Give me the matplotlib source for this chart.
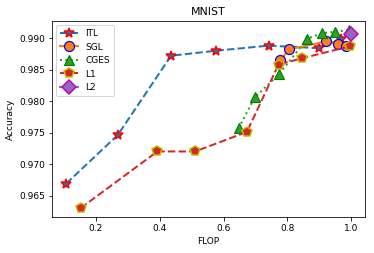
"""
MNIST accuracy vs FLOP for the pruning methods
"""

import matplotlib
matplotlib.use("Agg")
import matplotlib.pyplot as plt

# data
itl_flop = [0.108, 0.269, 0.436, 0.577, 0.741, 0.898, 0.967]
itl_acc = [0.9669, 0.9746, 0.9872, 0.9880, 0.9888, 0.9884, 0.9898]

sgl_flop = [0.778, 0.805, 0.922, 0.958, 0.982]
sgl_acc = [0.9865, 0.9882, 0.9895, 0.9890, 0.9888]

cges_flop = [0.647, 0.698, 0.774, 0.862, 0.909, 0.950, 0.992]
cges_acc = [0.9757, 0.9806, 0.9843, 0.9899, 0.9908, 0.9910, 0.9913]

l1_flop = [0.153, 0.393, 0.511, 0.673, 0.772, 0.846, 0.995]
l1_acc = [0.9630, 0.9720, 0.9720, 0.9751, 0.9858, 0.9868, 0.9887]

l2_flop = [0.998]
l2_acc = [0.9906]

plt.rcParams['font.size'] = 9

fig = plt.figure(figsize=(374 / 72, 253 / 72), dpi=72)
ax = fig.add_axes([0.139, 0.142, 0.837, 0.775])

ax.plot(itl_flop, itl_acc, '--', color='tab:blue', linewidth=2, marker='*',
        markersize=10, markerfacecolor='tab:blue', markeredgecolor='r',
        markeredgewidth=1.5, label='ITL')
ax.plot(sgl_flop, sgl_acc, '-', color='tab:orange', linewidth=2, marker='o',
        markersize=10, markerfacecolor='tab:orange', markeredgecolor='b',
        markeredgewidth=1.2, label='SGL')
ax.plot(cges_flop, cges_acc, ':', color='tab:green', linewidth=2, marker='^',
        markersize=10, markerfacecolor='tab:green', markeredgecolor='g',
        markeredgewidth=1.2, label='CGES')
ax.plot(l1_flop, l1_acc, '--', color='tab:red', linewidth=2, marker='p',
        markersize=10, markerfacecolor='tab:red', markeredgecolor='y',
        markeredgewidth=1.5, label='L1')
ax.plot(l2_flop, l2_acc, '-', color='tab:purple', linewidth=2, marker='D',
        markersize=10, markerfacecolor='tab:purple', markeredgecolor='m',
        markeredgewidth=1.5, label='L2')

ax.set_title('MNIST', fontsize=11)
ax.set_xlabel('FLOP')
ax.set_ylabel('Accuracy')
ax.legend(loc='upper left')

fig.savefig('out.png', dpi=72)
